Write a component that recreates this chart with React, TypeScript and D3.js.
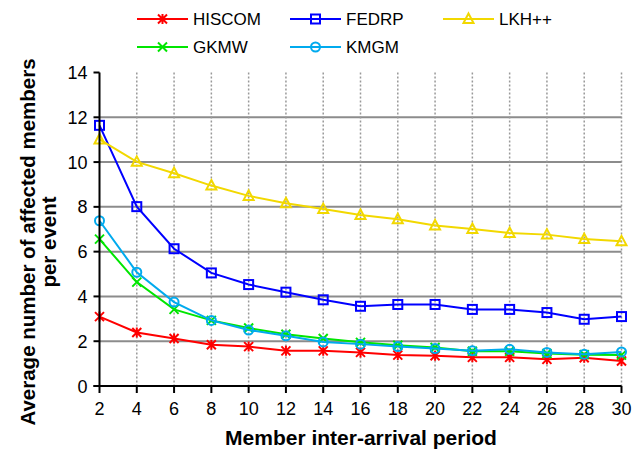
import React from "react";
import * as d3 from "d3";

const xValues = [2, 4, 6, 8, 10, 12, 14, 16, 18, 20, 22, 24, 26, 28, 30];
const hiscom = [3.1, 2.39, 2.12, 1.84, 1.76, 1.57, 1.57, 1.5, 1.38, 1.35, 1.28, 1.28, 1.19, 1.26, 1.12];
const fedrp = [11.64, 8.01, 6.13, 5.05, 4.53, 4.19, 3.85, 3.56, 3.64, 3.64, 3.42, 3.42, 3.28, 2.98, 3.1];
const lkh = [11.01, 10.01, 9.5, 8.95, 8.49, 8.16, 7.9, 7.64, 7.45, 7.17, 7.01, 6.83, 6.76, 6.56, 6.46];
const gkmw = [6.56, 4.64, 3.42, 2.93, 2.59, 2.31, 2.12, 1.95, 1.82, 1.72, 1.55, 1.55, 1.45, 1.4, 1.38];
const kmgm = [7.38, 5.08, 3.75, 2.93, 2.5, 2.24, 1.97, 1.87, 1.76, 1.67, 1.57, 1.64, 1.5, 1.42, 1.52];
const yTicks = [0, 2, 4, 6, 8, 10, 12, 14];

const seriesNames = ["HISCOM", "FEDRP", "LKH++", "GKMW", "KMGM"];
const seriesData = [hiscom, fedrp, lkh, gkmw, kmgm];
const seriesColors = ["#ff0000", "#0000ff", "#f2d800", "#00e600", "#00aaee"];
const seriesMarkers = ["asterisk", "square", "triangle", "cross", "circle"];

const W = 644;
const H = 452;
const left = 99.5;
const right = 621.5;
const top = 72.5;
const bottom = 386;

const font = "'Liberation Sans', Arial, sans-serif";

function Marker({ type, x, y, color }: { type: string; x: number; y: number; color: string }) {
  const s = 4.5;
  const common = { fill: "none", stroke: color, strokeWidth: 2 };
  if (type === "square") return <rect x={x - s} y={y - s} width={2 * s} height={2 * s} {...common} />;
  if (type === "circle") return <circle cx={x} cy={y} r={s} {...common} />;
  if (type === "triangle")
    return <path d={`M${x},${y - s - 1}L${x + s + 0.5},${y + s - 0.5}L${x - s - 0.5},${y + s - 0.5}Z`} {...common} />;
  if (type === "cross")
    return <path d={`M${x - s},${y - s}L${x + s},${y + s}M${x - s},${y + s}L${x + s},${y - s}`} {...common} />;
  // asterisk
  return (
    <path
      d={`M${x - s},${y - s}L${x + s},${y + s}M${x - s},${y + s}L${x + s},${y - s}M${x},${y - s - 0.5}L${x},${y + s + 0.5}`}
      {...common}
    />
  );
}

export default function App() {
  const xScale = d3.scaleLinear().domain([2, 30]).range([left, right]);
  const yScale = d3.scaleLinear().domain([0, 14]).range([bottom, top]);
  const line = d3
    .line<number>()
    .x((_, i) => xScale(xValues[i]))
    .y((d) => yScale(d));

  const legendPos = [
    [137, 19],
    [290, 19],
    [443, 19],
    [137, 47],
    [290, 47],
  ];

  return (
    <svg
      width={W}
      height={H}
      style={{ position: "absolute", left: 0, top: 0, background: "#fff" }}
      fontFamily={font}
    >
      {/* horizontal gridlines */}
      {yTicks
        .filter((t) => t > 0 && t < 14)
        .map((t) => (
          <line key={"h" + t} x1={left} x2={right} y1={yScale(t)} y2={yScale(t)} stroke="#8c8c8c" strokeWidth={2} />
        ))}
      {/* vertical dotted gridlines */}
      {xValues
        .filter((v) => v > 2)
        .map((v) => (
          <line
            key={"v" + v}
            x1={xScale(v)}
            x2={xScale(v)}
            y1={top}
            y2={bottom}
            stroke="#999"
            strokeWidth={1.5}
            strokeDasharray="2,2"
          />
        ))}
      {/* series */}
      {seriesData.map((data, si) => (
        <g key={seriesNames[si]}>
          <path d={line(data) || ""} fill="none" stroke={seriesColors[si]} strokeWidth={2} />
          {data.map((d, i) => (
            <Marker key={i} type={seriesMarkers[si]} x={xScale(xValues[i])} y={yScale(d)} color={seriesColors[si]} />
          ))}
        </g>
      ))}
      {/* axes */}
      <line x1={left} x2={left} y1={top} y2={bottom} stroke="#000" strokeWidth={2} />
      <line x1={left - 6} x2={right} y1={bottom} y2={bottom} stroke="#000" strokeWidth={2} />
      {yTicks.map((t) => (
        <g key={"yt" + t}>
          <line x1={left - 6} x2={left} y1={yScale(t)} y2={yScale(t)} stroke="#000" strokeWidth={2} />
          <text x={left - 12} y={yScale(t) + 6.5} textAnchor="end" fontSize={18} fill="#000">
            {t}
          </text>
        </g>
      ))}
      {xValues.map((v) => (
        <g key={"xt" + v}>
          <line x1={xScale(v)} x2={xScale(v)} y1={bottom} y2={bottom + 7} stroke="#000" strokeWidth={2} />
          <text x={xScale(v)} y={415} textAnchor="middle" fontSize={18} fill="#000">
            {v}
          </text>
        </g>
      ))}
      {/* axis titles */}
      <text x={361} y={445} textAnchor="middle" fontSize={21} fontWeight="bold" fill="#000">
        Member inter-arrival period
      </text>
      <g transform="translate(0,242) rotate(-90)">
        <text x={0} y={35} textAnchor="middle" fontSize={20.5} fontWeight="bold" fill="#000">
          Average number of affected members
        </text>
        <text x={0} y={56} textAnchor="middle" fontSize={20.5} fontWeight="bold" fill="#000">
          per event
        </text>
      </g>
      {/* legend */}
      {seriesNames.map((name, si) => {
        const [lx, ly] = legendPos[si];
        return (
          <g key={"lg" + name}>
            <line x1={lx} x2={lx + 51} y1={ly} y2={ly} stroke={seriesColors[si]} strokeWidth={2} />
            <Marker type={seriesMarkers[si]} x={lx + 25.5} y={ly} color={seriesColors[si]} />
            <text x={lx + 56} y={ly + 6} fontSize={17} fill="#000">
              {name}
            </text>
          </g>
        );
      })}
    </svg>
  );
}
